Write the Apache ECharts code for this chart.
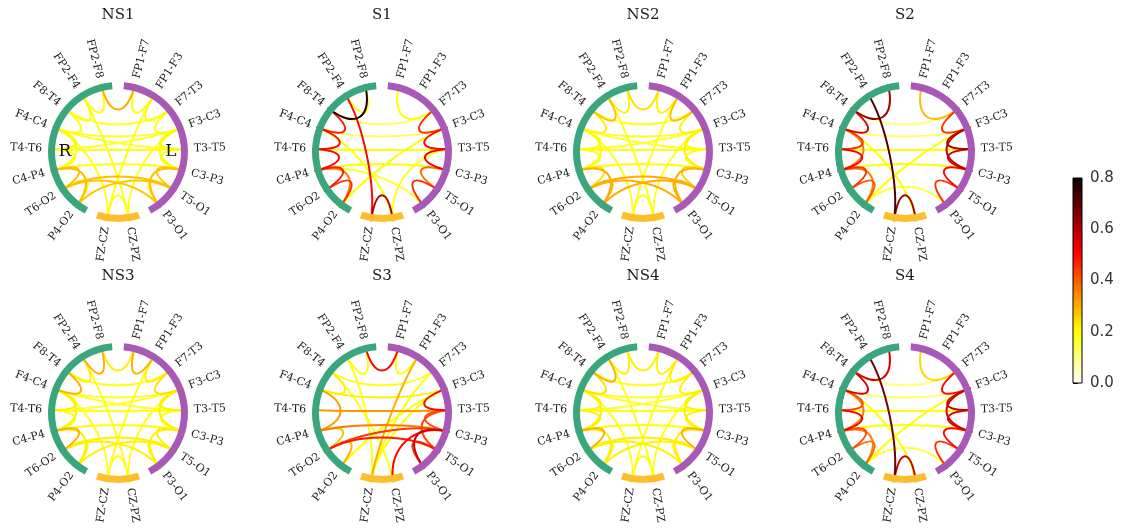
<!DOCTYPE html>
<html>
<head>
<meta charset="utf-8">
<script src="https://cdn.jsdelivr.net/npm/echarts@6/dist/echarts.min.js"></script>
<style>
  html, body { margin: 0; padding: 0; background: #ffffff; }
  #chart { width: 1127px; height: 531px; }
</style>
</head>
<body>
<div id="chart"></div>
<script>
// Bipolar EEG channels, in ring order (clockwise from the top)
const channels = ['FP1-F7', 'FP1-F3', 'F7-T3', 'F3-C3', 'T3-T5', 'C3-P3', 'T5-O1', 'P3-O1',
                  'CZ-PZ', 'FZ-CZ',
                  'P4-O2', 'T6-O2', 'C4-P4', 'T4-T6', 'F4-C4', 'F8-T4', 'FP2-F4', 'FP2-F8'];
// first channel of each group: left hemisphere, midline, right hemisphere
const groupStarts = [0, 8, 10];
const groupColors = ['#a859b8', '#fcbf2b', '#3aa67e'];

const panelTitles = ['NS1', 'S1', 'NS2', 'S2', 'NS3', 'S3', 'NS4', 'S4'];

// connections: [channel a, channel b, strength]
const linksNS1 = [
  [17, 0, 0.30], [16, 17, 0.20], [0, 1, 0.20], [15, 16, 0.20], [1, 2, 0.20], [14, 15, 0.20], [2, 3, 0.20],
  [13, 14, 0.21], [3, 4, 0.21], [12, 13, 0.20], [4, 5, 0.20], [11, 12, 0.28], [5, 6, 0.27], [10, 11, 0.22], [6, 7, 0.22],
  [8, 9, 0.19], [14, 12, 0.20], [3, 5, 0.20], [12, 10, 0.28], [5, 7, 0.28],
  [2, 15, 0.17], [3, 14, 0.18], [4, 13, 0.19], [5, 12, 0.19], [6, 11, 0.28], [11, 7, 0.27], [6, 10, 0.27],
  [16, 8, 0.18], [1, 9, 0.18], [14, 9, 0.18], [3, 8, 0.18], [14, 4, 0.17], [13, 3, 0.17]
];
const linksS1 = [
  [17, 15, 0.78], [16, 9, 0.50], [8, 9, 0.60],
  [15, 14, 0.48], [14, 13, 0.50], [13, 12, 0.50], [12, 11, 0.48], [11, 10, 0.45], [12, 10, 0.36],
  [2, 3, 0.45], [3, 4, 0.50], [4, 5, 0.52], [5, 6, 0.38], [6, 7, 0.46],
  [0, 2, 0.20], [16, 17, 0.20],
  [3, 14, 0.14], [4, 13, 0.20], [5, 12, 0.20], [2, 15, 0.12],
  [14, 8, 0.20], [3, 10, 0.20], [8, 4, 0.18], [12, 7, 0.16]
];
const linksNS2 = [
  [17, 0, 0.24], [16, 17, 0.22], [0, 1, 0.22], [15, 16, 0.28], [1, 2, 0.28], [14, 15, 0.22], [2, 3, 0.22],
  [13, 14, 0.20], [3, 4, 0.20], [12, 13, 0.20], [4, 5, 0.20], [11, 12, 0.24], [5, 6, 0.26], [10, 11, 0.30], [6, 7, 0.30],
  [8, 9, 0.19], [14, 12, 0.20], [3, 5, 0.22], [12, 10, 0.30], [5, 7, 0.30],
  [2, 15, 0.18], [3, 14, 0.18], [4, 13, 0.19], [5, 12, 0.20], [6, 11, 0.30], [11, 7, 0.30], [6, 10, 0.30],
  [16, 8, 0.18], [1, 9, 0.18], [14, 9, 0.18], [3, 8, 0.18], [14, 4, 0.17], [13, 3, 0.17]
];
const linksS2 = [
  [16, 9, 0.72], [8, 9, 0.62], [17, 15, 0.62],
  [15, 14, 0.55], [14, 13, 0.45], [13, 12, 0.52], [12, 11, 0.45], [11, 10, 0.40], [14, 12, 0.36], [12, 10, 0.36],
  [0, 2, 0.28], [2, 3, 0.45], [3, 4, 0.60], [4, 5, 0.55], [5, 6, 0.50], [6, 7, 0.45], [3, 5, 0.58],
  [3, 14, 0.12], [4, 13, 0.20], [5, 12, 0.20], [2, 15, 0.10],
  [14, 8, 0.20], [3, 10, 0.20], [7, 10, 0.15]
];
const linksNS3 = [
  [17, 0, 0.22], [16, 17, 0.30], [0, 1, 0.30], [15, 16, 0.22], [1, 2, 0.22], [14, 15, 0.30], [2, 3, 0.24],
  [13, 14, 0.22], [3, 4, 0.22], [12, 13, 0.20], [4, 5, 0.20], [11, 12, 0.30], [5, 6, 0.22], [10, 11, 0.22], [6, 7, 0.22],
  [8, 9, 0.19], [14, 12, 0.22], [3, 5, 0.22], [12, 10, 0.22], [5, 7, 0.22],
  [2, 15, 0.18], [3, 14, 0.18], [4, 13, 0.19], [5, 12, 0.20], [6, 11, 0.22], [11, 7, 0.22], [6, 10, 0.22],
  [16, 8, 0.18], [1, 9, 0.18], [14, 9, 0.18], [3, 8, 0.18], [14, 4, 0.17], [13, 3, 0.17]
];
const linksS3 = [
  [17, 0, 0.50], [16, 17, 0.20], [0, 1, 0.20],
  [4, 13, 0.33], [5, 12, 0.36], [6, 11, 0.48], [3, 14, 0.22], [2, 15, 0.18], [11, 5, 0.44],
  [14, 12, 0.32], [15, 14, 0.22], [12, 11, 0.28], [11, 10, 0.30],
  [3, 4, 0.50], [4, 5, 0.42], [5, 7, 0.56], [6, 7, 0.45], [4, 6, 0.42],
  [9, 1, 0.30], [9, 2, 0.20], [9, 3, 0.20], [8, 5, 0.50],
  [16, 9, 0.18], [15, 8, 0.18], [10, 3, 0.20]
];
const linksNS4 = [
  [17, 0, 0.22], [16, 17, 0.22], [0, 1, 0.22], [15, 16, 0.30], [1, 2, 0.22], [14, 15, 0.24], [2, 3, 0.22],
  [13, 14, 0.22], [3, 4, 0.22], [12, 13, 0.22], [4, 5, 0.22], [11, 12, 0.30], [5, 6, 0.30], [10, 11, 0.22], [6, 7, 0.22],
  [8, 9, 0.19], [14, 12, 0.22], [3, 5, 0.22], [12, 10, 0.22], [5, 7, 0.22],
  [2, 15, 0.18], [3, 14, 0.18], [4, 13, 0.19], [5, 12, 0.20], [6, 11, 0.22], [11, 7, 0.22], [6, 10, 0.22],
  [16, 8, 0.18], [1, 9, 0.18], [14, 9, 0.18], [3, 8, 0.18], [14, 4, 0.17], [13, 3, 0.17]
];
const linksS4 = [
  [16, 9, 0.68], [8, 9, 0.58], [17, 15, 0.55],
  [15, 14, 0.55], [14, 13, 0.42], [13, 12, 0.52], [12, 11, 0.42], [11, 10, 0.38], [14, 12, 0.36], [12, 10, 0.36],
  [0, 2, 0.25], [2, 3, 0.50], [3, 4, 0.58], [4, 5, 0.55], [5, 6, 0.50], [6, 7, 0.45], [3, 5, 0.55],
  [3, 14, 0.12], [4, 13, 0.20], [5, 12, 0.20], [2, 15, 0.10],
  [14, 8, 0.20], [3, 10, 0.20], [7, 10, 0.15]
];
const panelLinks = [linksNS1, linksS1, linksNS2, linksS2, linksNS3, linksS3, linksNS4, linksS4];

const colorbarTicks = [0.0, 0.2, 0.4, 0.6, 0.8];
const strengthMin = 0.0, strengthMax = 0.8;

// layout constants
const panelCenters = [[118, 152], [382, 152], [643, 152], [905, 152],
                      [118, 413], [382, 413], [643, 413], [905, 413]];
const ringPx = 70;          // pixel radius of the ring's outer edge (radius value 10)
const groupSep = 10;        // extra degrees between channel groups

// channel angles, clockwise from the top, with gaps between groups
const nodeSep = (360 - groupStarts.length * groupSep) / channels.length;
const nodeAngles = channels.map((_, k) => {
  const gaps = groupStarts.filter(s => s > 0 && s <= k).length;
  return (nodeSep + groupSep) / 2 + k * nodeSep + gaps * groupSep;
});

// reversed "hot" colour map
function hot(x) {
  const r = x < 0.365079 ? 0.0416 + (1 - 0.0416) * x / 0.365079 : 1;
  const g = x < 0.365079 ? 0 : (x < 0.746032 ? (x - 0.365079) / 0.380953 : 1);
  const b = x < 0.746032 ? 0 : (x - 0.746032) / 0.253968;
  const c = v => Math.round(Math.max(0, Math.min(1, v)) * 255);
  return 'rgb(' + c(r) + ',' + c(g) + ',' + c(b) + ')';
}
const hotR = Array.from({ length: 65 }, (_, i) => hot(1 - i / 64));

const serif = '"DejaVu Serif", "Liberation Serif", serif';
const rad = d => d * Math.PI / 180;

const chart = echarts.init(document.getElementById('chart'), null, { renderer: 'canvas' });

const polar = [], angleAxis = [], radiusAxis = [], series = [], title = [];
const linkSeriesIdx = [];

panelTitles.forEach((name, p) => {
  polar.push({ center: panelCenters[p], radius: [0, ringPx] });
  angleAxis.push({ polarIndex: p, type: 'value', min: 0, max: 360, startAngle: 90, clockwise: true, show: false });
  radiusAxis.push({ polarIndex: p, type: 'value', min: 0, max: 10, show: false });
  title.push({
    text: name, left: panelCenters[p][0], top: panelCenters[p][1] - 144, textAlign: 'center', padding: 0,
    textStyle: { fontFamily: serif, fontSize: 15, fontWeight: 'normal', color: '#1a1a1a' }
  });

  // connections, weakest first so the strongest end up on top
  const links = panelLinks[p].slice().sort((a, b) => a[2] - b[2]);
  linkSeriesIdx.push(series.length);
  series.push({
    type: 'custom', coordinateSystem: 'polar', polarIndex: p, z: 2, silent: true,
    data: links,
    renderItem: (params, api) => {
      const a0 = nodeAngles[api.value(0)], a1 = nodeAngles[api.value(1)];
      const p0 = api.coord([10, a0]), c0 = api.coord([5, a0]);
      const c1 = api.coord([5, a1]), p1 = api.coord([10, a1]);
      return {
        type: 'bezierCurve',
        shape: { x1: p0[0], y1: p0[1], cpx1: c0[0], cpy1: c0[1], cpx2: c1[0], cpy2: c1[1], x2: p1[0], y2: p1[1] },
        style: { stroke: api.visual('color'), fill: null, lineWidth: 2 }
      };
    }
  });

  // coloured ring, one arc per channel group
  series.push({
    type: 'custom', coordinateSystem: 'polar', polarIndex: p, z: 3, silent: true,
    data: groupStarts.map((s, g) => [g]),
    renderItem: (params, api) => {
      const g = api.value(0);
      const first = groupStarts[g];
      const last = (g + 1 < groupStarts.length ? groupStarts[g + 1] : channels.length) - 1;
      const c = api.coord([0, 0]);
      const pIn = api.coord([9, nodeAngles[first]]), pOut = api.coord([10, nodeAngles[first]]);
      const r0 = Math.hypot(pIn[0] - c[0], pIn[1] - c[1]);
      const r = Math.hypot(pOut[0] - c[0], pOut[1] - c[1]);
      return {
        type: 'sector',
        shape: {
          cx: c[0], cy: c[1], r0: r0, r: r,
          startAngle: rad(nodeAngles[first] - 90 - nodeSep / 2),
          endAngle: rad(nodeAngles[last] - 90 + nodeSep / 2),
          clockwise: true
        },
        style: { fill: groupColors[g] }
      };
    }
  });

  // channel names along the radial direction
  series.push({
    type: 'custom', coordinateSystem: 'polar', polarIndex: p, z: 4, silent: true,
    data: channels.map((_, k) => [k]),
    renderItem: (params, api) => {
      const k = api.value(0);
      const a = nodeAngles[k];
      const pt = api.coord([10.85, a]);
      const right = a < 180;
      return {
        type: 'text', x: pt[0], y: pt[1],
        rotation: rad(right ? 90 - a : 270 - a),
        style: {
          text: channels[k], align: right ? 'left' : 'right', verticalAlign: 'middle',
          font: '11px ' + serif, fill: '#1a1a1a'
        }
      };
    }
  });
});

// colour bar
series.push({
  type: 'custom', coordinateSystem: 'cartesian2d', xAxisIndex: 0, yAxisIndex: 0, silent: true, z: 5,
  data: [[0, strengthMin, strengthMax]],
  renderItem: (params, api) => {
    const lo = api.coord([0, api.value(1)]), hi = api.coord([1, api.value(2)]);
    return {
      type: 'rect',
      shape: { x: lo[0], y: hi[1], width: hi[0] - lo[0], height: lo[1] - hi[1] },
      style: {
        fill: new echarts.graphic.LinearGradient(0, 1, 0, 0,
          hotR.map((col, i) => ({ offset: i / (hotR.length - 1), color: col }))),
        stroke: '#000', lineWidth: 1
      }
    };
  }
});

chart.setOption({
  animation: false,
  backgroundColor: '#ffffff',
  title: title,
  polar: polar,
  angleAxis: angleAxis,
  radiusAxis: radiusAxis,
  grid: [{ left: 1073, top: 178, width: 9, height: 205 }],
  xAxis: [{ gridIndex: 0, type: 'value', min: 0, max: 1, show: false }],
  yAxis: [{
    gridIndex: 0, type: 'value', position: 'right', min: strengthMin, max: strengthMax,
    interval: colorbarTicks[1] - colorbarTicks[0],
    axisLine: { show: false }, splitLine: { show: false },
    axisTick: { show: true, length: 5, lineStyle: { color: '#000', width: 1 } },
    axisLabel: {
      margin: 8, color: '#333', fontSize: 15, fontFamily: '"DejaVu Sans", sans-serif',
      formatter: v => colorbarTicks.find(t => Math.abs(t - v) < 1e-9).toFixed(1)
    }
  }],
  visualMap: {
    type: 'continuous', show: false, min: strengthMin, max: strengthMax, dimension: 2,
    seriesIndex: linkSeriesIdx, inRange: { color: hotR }
  },
  graphic: [
    { type: 'text', x: 65, y: 152, style: { text: 'R', font: '17px ' + serif, fill: '#111', align: 'center', verticalAlign: 'middle' }, z: 10 },
    { type: 'text', x: 171, y: 152, style: { text: 'L', font: '17px ' + serif, fill: '#111', align: 'center', verticalAlign: 'middle' }, z: 10 }
  ],
  series: series
});
</script>
</body>
</html>
